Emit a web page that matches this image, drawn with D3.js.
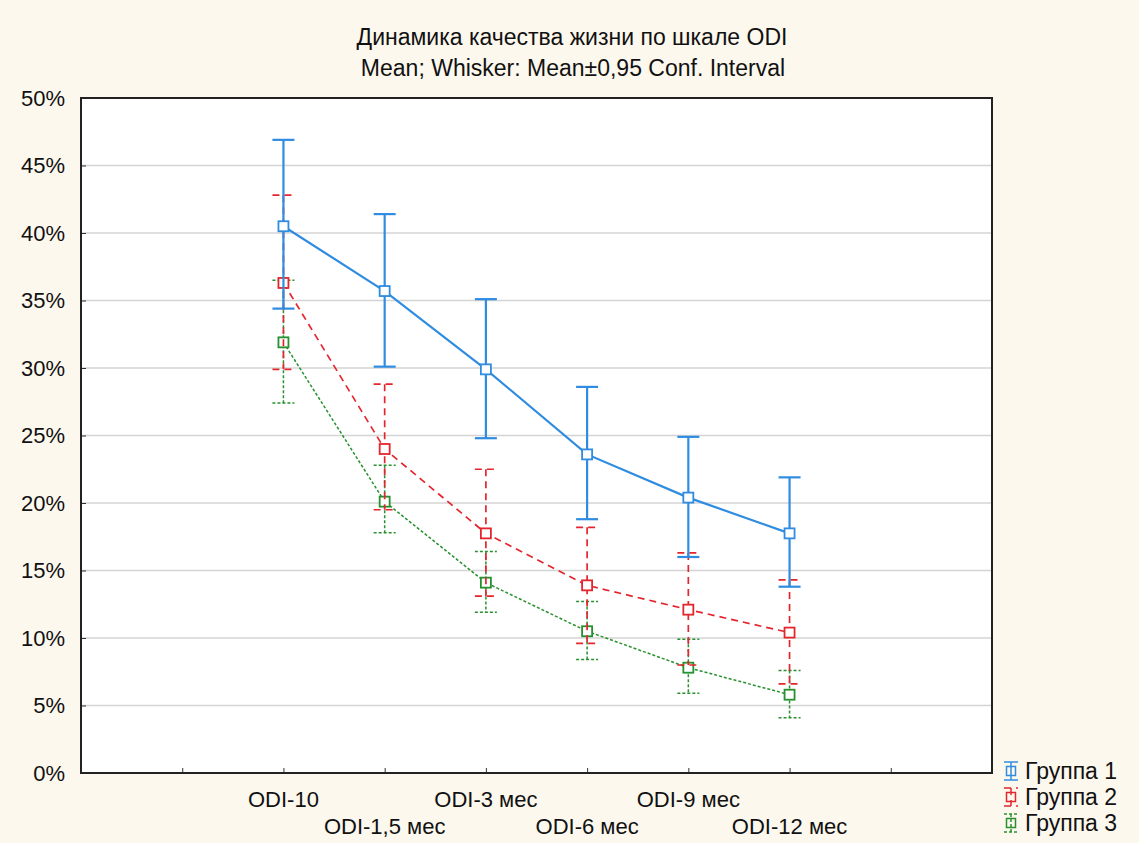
<!DOCTYPE html>
<html>
<head>
<meta charset="utf-8">
<script src="https://cdn.jsdelivr.net/npm/d3@7"></script>
<style>
  body { margin: 0; background: #fdf8ee; }
  svg text { font-family: "Liberation Sans", Arial, sans-serif; fill: #111; }
</style>
</head>
<body>
<script>
// chart data (percent)
var categories = ["ODI-10", "ODI-1,5 мес", "ODI-3 мес", "ODI-6 мес", "ODI-9 мес", "ODI-12 мес"];
var seriesNames = ["Группа 1", "Группа 2", "Группа 3"];

var mean1 = [40.5, 35.7, 29.9, 23.6, 20.4, 17.75];
var upper1 = [46.9, 41.4, 35.1, 28.6, 24.9, 21.9];
var lower1 = [34.4, 30.1, 24.8, 18.8, 16.0, 13.8];

var mean2 = [36.3, 24.0, 17.75, 13.9, 12.1, 10.4];
var upper2 = [42.8, 28.8, 22.5, 18.2, 16.3, 14.3];
var lower2 = [29.9, 19.5, 13.1, 9.6, 8.0, 6.6];

var mean3 = [31.9, 20.1, 14.1, 10.5, 7.8, 5.8];
var upper3 = [36.5, 22.8, 16.4, 12.7, 9.9, 7.6];
var lower3 = [27.4, 17.8, 11.9, 8.4, 5.9, 4.1];

var yTicks = [0, 5, 10, 15, 20, 25, 30, 35, 40, 45, 50];

var W = 1139, H = 843;
var padL = 81, padR = 992, padT = 98, padB = 773;
var fontSize = "22px";

function main() {
  var svg = d3.select("body").append("svg")
    .attr("width", W).attr("height", H);

  // x positions: categories sit at slots 2..7 of a 0..9 axis
  var xScale = d3.scaleLinear().domain([0, 9]).range([padL, padR]);
  var yScale = d3.scaleLinear().domain([0, 50]).range([padB, padT]);
  function xc(i) { return xScale(i + 2); }

  svg.append("rect")
    .attr("x", padL).attr("y", padT)
    .attr("width", padR - padL).attr("height", padB - padT)
    .attr("fill", "#fff");

  // gridlines
  svg.append("g").selectAll("line")
    .data(yTicks.slice(1, -1))
    .enter().append("line")
    .attr("x1", padL).attr("x2", padR)
    .attr("y1", function(d) { return yScale(d); })
    .attr("y2", function(d) { return yScale(d); })
    .attr("stroke", "#d4d4d4").attr("stroke-width", 1.3);

  // y axis
  var yAxis = d3.axisLeft(yScale)
    .tickValues(yTicks)
    .tickSize(-5)
    .tickPadding(16)
    .tickFormat(function(d) { return d + "%"; });
  var gy = svg.append("g").attr("transform", "translate(" + padL + ",0)").call(yAxis);
  gy.select(".domain").remove();
  gy.selectAll("line").attr("stroke", "#333");
  gy.selectAll("text").style("font-size", fontSize).attr("fill", "#111")
    .attr("font-family", null);

  // x axis ticks
  var xAxis = d3.axisBottom(xScale)
    .tickValues(d3.range(1, 9))
    .tickSize(-5)
    .tickFormat("");
  var gx = svg.append("g").attr("transform", "translate(0," + padB + ")").call(xAxis);
  gx.select(".domain").remove();
  gx.selectAll("line").attr("stroke", "#333");

  // x category labels, staggered
  svg.append("g").selectAll("text")
    .data(categories)
    .enter().append("text")
    .attr("x", function(d, i) { return xc(i); })
    .attr("y", function(d, i) { return i % 2 == 0 ? 807 : 834; })
    .attr("text-anchor", "middle")
    .style("font-size", fontSize)
    .text(function(d) { return d; });

  // frame
  svg.append("rect")
    .attr("x", padL).attr("y", padT)
    .attr("width", padR - padL).attr("height", padB - padT)
    .attr("fill", "none").attr("stroke", "#222").attr("stroke-width", 2);

  var series = [
    { name: seriesNames[0], mean: mean1, up: upper1, lo: lower1, color: "#2f8ce0", dash: null, width: 2.2 },
    { name: seriesNames[1], mean: mean2, up: upper2, lo: lower2, color: "#e3262e", dash: "7,5", width: 1.7 },
    { name: seriesNames[2], mean: mean3, up: upper3, lo: lower3, color: "#27912f", dash: "3,2", width: 1.5 }
  ];

  // draw green first, blue on top
  series.slice().reverse().forEach(function(s) {
    var g = svg.append("g");
    var idx = d3.range(categories.length);
    var line = d3.line()
      .x(function(i) { return xc(i); })
      .y(function(i) { return yScale(s.mean[i]); });

    g.append("path")
      .datum(idx)
      .attr("d", line)
      .attr("fill", "none")
      .attr("stroke", s.color)
      .attr("stroke-width", s.width)
      .attr("stroke-dasharray", s.dash);

    // whiskers
    g.selectAll(".wv").data(idx).enter().append("line")
      .attr("x1", function(i) { return xc(i); })
      .attr("x2", function(i) { return xc(i); })
      .attr("y1", function(i) { return yScale(s.up[i]); })
      .attr("y2", function(i) { return yScale(s.lo[i]); })
      .attr("stroke", s.color).attr("stroke-width", s.width)
      .attr("stroke-dasharray", s.dash);

    ["up", "lo"].forEach(function(k) {
      g.selectAll(".cap" + k).data(idx).enter().append("line")
        .attr("x1", function(i) { return xc(i) - 11; })
        .attr("x2", function(i) { return xc(i) + 11; })
        .attr("y1", function(i) { return yScale(s[k][i]); })
        .attr("y2", function(i) { return yScale(s[k][i]); })
        .attr("stroke", s.color).attr("stroke-width", s.width)
        .attr("stroke-dasharray", s.dash);
    });

    // square markers
    g.selectAll("rect").data(idx).enter().append("rect")
      .attr("x", function(i) { return xc(i) - 5; })
      .attr("y", function(i) { return yScale(s.mean[i]) - 5; })
      .attr("width", 10).attr("height", 10)
      .attr("fill", "#fff")
      .attr("stroke", s.color).attr("stroke-width", 1.8);
  });

  // title
  svg.append("text").attr("x", 572).attr("y", 45).attr("text-anchor", "middle")
    .style("font-size", "23px").text("Динамика качества жизни по шкале ODI");
  svg.append("text").attr("x", 573).attr("y", 76).attr("text-anchor", "middle")
    .style("font-size", "23px").text("Mean; Whisker: Mean±0,95 Conf. Interval");

  // legend
  var lg = svg.append("g").selectAll("g")
    .data(series)
    .enter().append("g")
    .attr("transform", function(d, i) { return "translate(1011," + (771 + i * 26) + ")"; });
  lg.append("line").attr("x1", 0).attr("x2", 0).attr("y1", -9).attr("y2", 9)
    .attr("stroke", function(d) { return d.color; }).attr("stroke-width", 1.5)
    .attr("stroke-dasharray", function(d) { return d.dash; });
  lg.append("line").attr("x1", -7).attr("x2", 7).attr("y1", -9).attr("y2", -9)
    .attr("stroke", function(d) { return d.color; }).attr("stroke-width", 1.5)
    .attr("stroke-dasharray", function(d) { return d.dash; });
  lg.append("line").attr("x1", -7).attr("x2", 7).attr("y1", 9).attr("y2", 9)
    .attr("stroke", function(d) { return d.color; }).attr("stroke-width", 1.5)
    .attr("stroke-dasharray", function(d) { return d.dash; });
  lg.append("rect").attr("x", -4.5).attr("y", -4.5).attr("width", 9).attr("height", 9)
    .attr("fill", "none").attr("stroke", function(d) { return d.color; }).attr("stroke-width", 1.5);
  lg.append("text").attr("x", 14).attr("y", 8)
    .style("font-size", "23px")
    .text(function(d) { return d.name; });
}

main();
</script>
</body>
</html>
